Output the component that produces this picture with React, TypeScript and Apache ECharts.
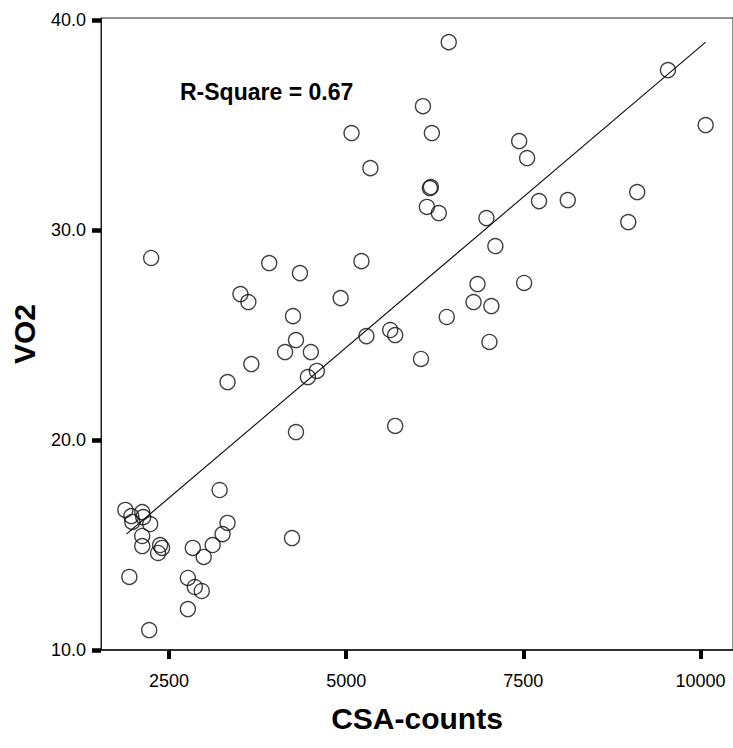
import React, { useEffect, useRef } from "react";
import * as echarts from "echarts";

const csaCounts: number[] = [
  1884, 1968, 1982, 2122, 2136, 2234, 2122, 2122, 2374, 2402, 2346, 1940, 2220,
  2836, 2990, 3116, 3256, 3326, 3214, 2766, 2864, 2962, 2766, 4236,
  3662, 3326, 3508, 3620, 3914, 4348, 5216, 4922, 4250, 4292, 4138, 4502, 4460,
  4586, 4292, 5286, 5622, 5692, 5692, 6056, 6420, 6854, 6798, 7050, 7022, 7512,
  2248,
  6448, 9542, 10074, 6084, 5076, 6210, 5342, 7442, 7554, 6182, 6196, 6140, 6308,
  6980, 7106, 7722, 8128, 9108, 8982,
];
const vo2: number[] = [
  16.67, 16.38, 16.1, 16.57, 16.33, 16.0, 15.43, 14.95, 15.0, 14.86, 14.62, 13.48, 10.95,
  14.86, 14.43, 15.0, 15.52, 16.05, 17.62, 13.43, 13.0, 12.81, 11.95, 15.33,
  23.62, 22.76, 26.95, 26.57, 28.43, 27.95, 28.52, 26.76, 25.9, 24.76, 24.19, 24.19, 23.0,
  23.29, 20.38, 24.95, 25.24, 25.0, 20.67, 23.86, 25.86, 27.43, 26.57, 26.38, 24.67, 27.48,
  28.67,
  38.95, 37.62, 35.0, 35.9, 34.62, 34.62, 32.95, 34.24, 33.43, 32.0, 32.05, 31.1, 30.81,
  30.57, 29.24, 31.38, 31.43, 31.81, 30.38,
];
const fitLineX: number[] = [1898, 10074];
const fitLineY: number[] = [15.52, 38.95];
const xTicks: number[] = [2500, 5000, 7500, 10000];
const yTicks: number[] = [10, 20, 30, 40];
const rSquareLabel = "R-Square = 0.67";

export default function App() {
  const ref = useRef<HTMLDivElement>(null);
  useEffect(() => {
    if (!ref.current) return;
    const chart = echarts.init(ref.current, null, { renderer: "svg" });
    const font = "'Liberation Sans', Arial, Helvetica, sans-serif";
    chart.setOption({
      animation: false,
      backgroundColor: "#ffffff",
      textStyle: { fontFamily: font },
      grid: {
        left: 101,
        top: 18,
        right: -5,
        bottom: 98,
        show: true,
        borderColor: "#222",
        borderWidth: 1,
        backgroundColor: "transparent",
      },
      xAxis: {
        type: "value",
        min: 1540,
        max: 10460,
        name: "CSA-counts",
        nameLocation: "middle",
        nameGap: 53,
        nameTextStyle: { fontSize: 30, fontWeight: "bold", color: "#000", fontFamily: font },
        axisLine: { show: true, lineStyle: { color: "#111", width: 1.5 } },
        axisTick: {
          show: true,
          length: 9,
          customValues: xTicks,
          lineStyle: { color: "#000", width: 4 },
        },
        axisLabel: {
          customValues: xTicks,
          formatter: (v: number) => String(v),
          fontSize: 18,
          color: "#000",
          margin: 22,
          fontFamily: font,
        },
        splitLine: { show: false },
      },
      yAxis: {
        type: "value",
        min: 10,
        max: 40.1,
        name: "VO2",
        nameLocation: "middle",
        nameGap: 62,
        nameTextStyle: { fontSize: 30, fontWeight: "bold", color: "#000", fontFamily: font },
        axisLine: { show: true, lineStyle: { color: "#222", width: 1 } },
        axisTick: {
          show: true,
          length: 9,
          customValues: yTicks,
          lineStyle: { color: "#000", width: 4.5 },
        },
        axisLabel: {
          customValues: yTicks,
          formatter: (v: number) => v.toFixed(1),
          fontSize: 18,
          color: "#000",
          margin: 15,
          fontFamily: font,
        },
        splitLine: { show: false },
      },
      graphic: [
        {
          type: "text",
          left: 180,
          top: 80,
          style: {
            text: rSquareLabel,
            fontSize: 23,
            fontWeight: "bold",
            fill: "#000",
            fontFamily: font,
          },
        },
      ],
      series: [
        {
          type: "line",
          data: fitLineX.map((x, i) => [x, fitLineY[i]]),
          symbol: "none",
          lineStyle: { color: "#111", width: 1.2 },
          z: 2,
        },
        {
          type: "scatter",
          data: csaCounts.map((x, i) => [x, vo2[i]]),
          symbol: "circle",
          symbolSize: 15,
          itemStyle: { color: "rgba(255,255,255,0)", borderColor: "#111", borderWidth: 1.4 },
          z: 3,
        },
      ],
    });
    return () => chart.dispose();
  }, []);
  return (
    <div
      ref={ref}
      style={{ position: "fixed", left: 0, top: 0, width: 733, height: 748, background: "#fff" }}
    />
  );
}
